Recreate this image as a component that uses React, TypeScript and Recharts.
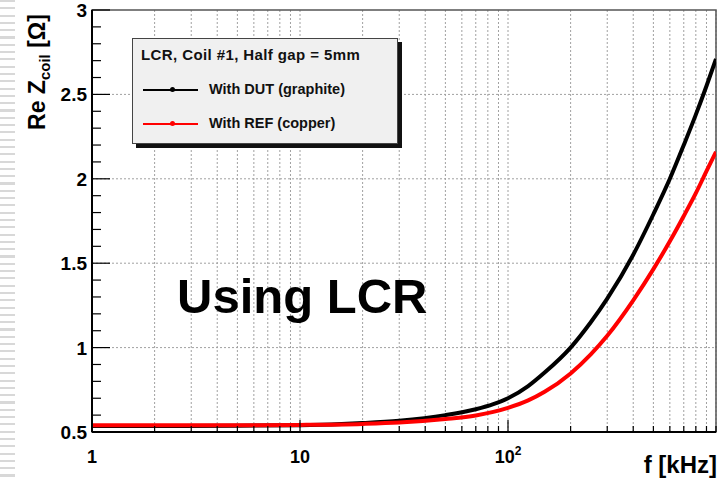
import { LineChart, Line, XAxis, YAxis, CartesianGrid, ReferenceLine, ReferenceArea } from 'recharts'

// frequency in kHz
const freq = [1, 2, 5, 10, 20, 30, 50, 70, 85, 100, 125, 150, 200, 250, 300, 400, 500, 600, 700, 800, 900, 1000]
const dutRe = [0.535, 0.535, 0.537, 0.54, 0.553, 0.567, 0.6, 0.635, 0.665, 0.7, 0.772, 0.852, 1.0, 1.15, 1.29, 1.55, 1.79, 2.0, 2.2, 2.38, 2.55, 2.71]
const refRe = [0.54, 0.54, 0.54, 0.542, 0.548, 0.556, 0.577, 0.598, 0.619, 0.643, 0.687, 0.738, 0.847, 0.96, 1.07, 1.28, 1.465, 1.63, 1.78, 1.915, 2.045, 2.16]

const xTicks = [1, 2, 3, 4, 5, 6, 7, 8, 9, 10, 20, 30, 40, 50, 60, 70, 80, 90, 100, 200, 300, 400, 500, 600, 700, 800, 900, 1000]
const xMajor = [1, 10, 100]
const yTicks = [0.5, 0.6, 0.7, 0.8, 0.9, 1, 1.1, 1.2, 1.3, 1.4, 1.5, 1.6, 1.7, 1.8, 1.9, 2, 2.1, 2.2, 2.3, 2.4, 2.5, 2.6, 2.7, 2.8, 2.9, 3]
const yGrid = [1, 1.5, 2, 2.5]

const seriesNames = ['With DUT (graphite)', 'With REF (copper)']
const seriesColors = ['#000000', '#ff0000']
const legendTitle = 'LCR, Coil #1, Half gap = 5mm'

const data = freq.map((f, i) => ({ f, dut: dutRe[i], ref: refRe[i] }))

const font = '"Liberation Sans", Arial, sans-serif'

function XTick({ x, y, payload }: any) {
  const v = payload.value
  const major = xMajor.includes(v)
  return (
    <g>
      <line x1={x} x2={x} y1={y} y2={y - (major ? 12 : 6)} stroke="#000" strokeWidth={1.2} />
      {major && (
        <text x={x} y={y + 31} textAnchor="middle" fontFamily={font} fontWeight="bold" fontSize={18} fill="#000">
          {v === 100 ? (
            <>
              10<tspan dy={-8} fontSize={12}>2</tspan>
            </>
          ) : (
            String(v)
          )}
        </text>
      )}
    </g>
  )
}

function YTick({ x, y, payload }: any) {
  const v = payload.value
  const major = Math.abs(v * 2 - Math.round(v * 2)) < 1e-6
  return (
    <g>
      <line x1={x} x2={x + (major ? 18 : 9)} y1={y} y2={y} stroke="#000" strokeWidth={1.2} />
      {major && (
        <text x={x - 5} y={y + 7} textAnchor="end" fontFamily={font} fontWeight="bold" fontSize={19} fill="#000">
          {String(v)}
        </text>
      )}
    </g>
  )
}

export default function App() {
  return (
    <div style={{ position: 'fixed', left: 0, top: 0, width: 722, height: 480, background: '#fff', fontFamily: font }}>
      <div
        style={{
          position: 'absolute',
          left: 0,
          top: 0,
          width: 15,
          height: 480,
          background: 'repeating-linear-gradient(to bottom, #d8d8d8 0px, #d8d8d8 2px, transparent 2px, transparent 7.3px)',
        }}
      />
      <LineChart width={722} height={480} data={data} margin={{ top: 10, right: 6, bottom: 0, left: 0 }}>
        <CartesianGrid horizontal={false} stroke="#a0a0a0" strokeDasharray="2 2" />
        {yGrid.map((v) => (
          <ReferenceLine key={v} y={v} stroke="#a0a0a0" strokeDasharray="2 2" />
        ))}
        <ReferenceArea x1={1} x2={1000} y1={0.5} y2={3} fill="none" stroke="#555" strokeWidth={1.5} />
        <XAxis
          dataKey="f"
          type="number"
          scale="log"
          domain={[1, 1000]}
          allowDataOverflow
          ticks={xTicks}
          interval={0}
          height={48}
          tickSize={0}
          tickMargin={0}
          tickLine={false}
          tick={<XTick />}
          axisLine={{ stroke: '#000', strokeWidth: 2 }}
        />
        <YAxis
          type="number"
          domain={[0.5, 3]}
          allowDataOverflow
          ticks={yTicks}
          interval={0}
          width={92}
          tickSize={0}
          tickMargin={0}
          tickLine={false}
          tick={<YTick />}
          axisLine={{ stroke: '#000', strokeWidth: 2 }}
        />
        <Line type="monotone" dataKey="dut" stroke={seriesColors[0]} strokeWidth={4} dot={false} isAnimationActive={false} />
        <Line type="monotone" dataKey="ref" stroke={seriesColors[1]} strokeWidth={4} dot={false} isAnimationActive={false} />
      </LineChart>

      <svg width={722} height={480} style={{ position: 'absolute', left: 0, top: 0, pointerEvents: 'none' }}>
        <text transform="translate(45,72) rotate(-90)" textAnchor="middle" fontFamily={font} fontWeight="bold" fontSize={23} fill="#000">
          Re Z<tspan fontSize={15} dy={5}>coil</tspan>
          <tspan dy={-5}> [Ω]</tspan>
        </text>
        <text x={177} y={313} fontFamily={font} fontWeight="bold" fontSize={49} fill="#000">
          Using LCR
        </text>
        <text x={717} y={473} textAnchor="end" fontFamily={font} fontWeight="bold" fontSize={24} fill="#000">
          f [kHz]
        </text>
      </svg>

      <div
        style={{
          position: 'absolute',
          left: 132,
          top: 38,
          width: 264,
          height: 104,
          background: '#f0f0f0',
          border: '1px solid #444',
          boxShadow: '4px 4px 0 #111',
        }}
      >
        <div style={{ position: 'absolute', left: 8, top: 7, fontWeight: 'bold', fontSize: 15, letterSpacing: 0.4, color: '#111', whiteSpace: 'nowrap' }}>
          {legendTitle}
        </div>
        {seriesNames.map((name, i) => (
          <div key={name} style={{ position: 'absolute', left: 0, top: 42 + i * 34, width: 264, height: 18 }}>
            <div style={{ position: 'absolute', left: 10, top: 8, width: 55, height: 1.5, background: seriesColors[i] }} />
            <div style={{ position: 'absolute', left: 37, top: 6, width: 5, height: 5, borderRadius: 3, background: seriesColors[i] }} />
            <div style={{ position: 'absolute', left: 76, top: 0, fontWeight: 'bold', fontSize: 14.5, color: '#111', whiteSpace: 'nowrap' }}>
              {name}
            </div>
          </div>
        ))}
      </div>
    </div>
  )
}
